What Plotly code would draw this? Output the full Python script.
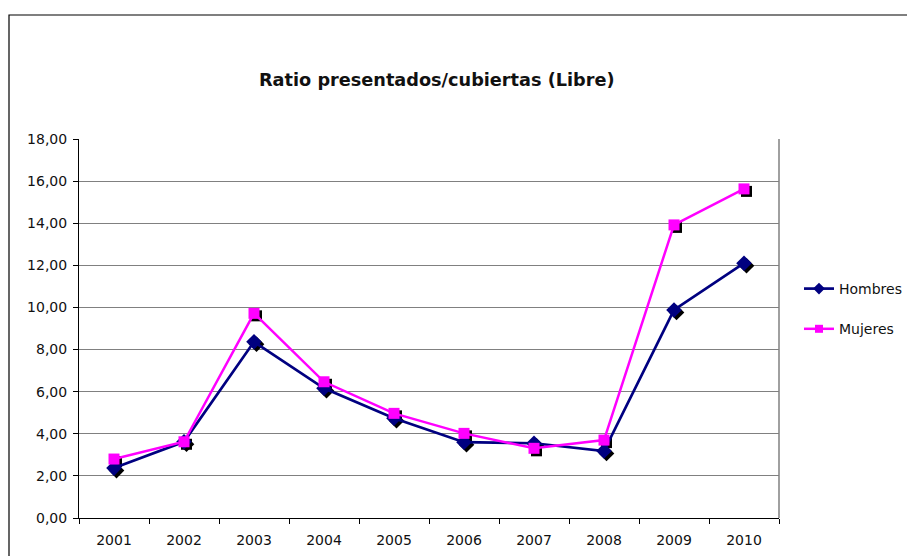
import plotly.graph_objects as go

years = ["2001", "2002", "2003", "2004", "2005", "2006", "2007", "2008", "2009", "2010"]
hombres = [2.37, 3.62, 8.37, 6.16, 4.74, 3.60, 3.55, 3.18, 9.88, 12.10]
mujeres = [2.80, 3.62, 9.72, 6.47, 4.97, 4.02, 3.31, 3.70, 13.92, 15.63]
y_ticks = [0, 2, 4, 6, 8, 10, 12, 14, 16, 18]

OFF = 8  # page body margin
W, H = 915 - OFF, 556 - OFF
L, T = 79 - OFF, 139 - OFF
R = W - (779 - OFF)
B = H - (518 - OFF)
pw = W - L - R
ph = H - T - B


def px(x):
    return (x - OFF - L) / pw


def py(y):
    return ((518 - OFF) - (y - OFF)) / ph


# shadow offset in pixels
dx, dy = 2.5, 2.5
xr = [-0.5, 9.5]
yr = [0, 18]
sx = dx * (xr[1] - xr[0]) / pw
sy = dy * (yr[1] - yr[0]) / ph

fig = go.Figure()
font_family = "DejaVu Sans, Verdana, sans-serif"
navy = "#000080"
magenta = "#FF00FF"

# invisible trace anchoring the base (visible) axes
fig.add_trace(go.Scatter(x=years, y=hombres, mode="lines", line=dict(width=0, color="rgba(0,0,0,0)"),
                         opacity=0, showlegend=False, hoverinfo="skip"))

# shadows (overlay x2/y2, shifted)
fig.add_trace(go.Scatter(x=years, y=hombres, mode="markers", xaxis="x2", yaxis="y2",
                         marker=dict(symbol="diamond", size=12, color="black"),
                         showlegend=False, hoverinfo="skip"))
fig.add_trace(go.Scatter(x=years, y=mujeres, mode="markers", xaxis="x2", yaxis="y2",
                         marker=dict(symbol="square", size=11, color="black"),
                         showlegend=False, hoverinfo="skip"))

# real series (overlay x3/y3, on top)
fig.add_trace(go.Scatter(x=years, y=hombres, mode="lines+markers", name="Hombres",
                         xaxis="x3", yaxis="y3", showlegend=False,
                         line=dict(color=navy, width=2.7),
                         marker=dict(symbol="diamond", size=12, color=navy)))
fig.add_trace(go.Scatter(x=years, y=mujeres, mode="lines+markers", name="Mujeres",
                         xaxis="x3", yaxis="y3", showlegend=False,
                         line=dict(color=magenta, width=2.5),
                         marker=dict(symbol="square", size=11, color=magenta)))

# legend entries (no data)
fig.add_trace(go.Scatter(x=[None], y=[None], mode="lines+markers", name="Hombres",
                         legendgroup="h", xaxis="x3", yaxis="y3",
                         line=dict(color=navy, width=2.7),
                         marker=dict(symbol="diamond", size=9, color=navy)))
fig.add_trace(go.Scatter(x=[None], y=[None], mode="lines+markers", name="Mujeres",
                         legendgroup="m", xaxis="x3", yaxis="y3",
                         line=dict(color=magenta, width=2.5),
                         marker=dict(symbol="square", size=8, color=magenta)))

fig.update_layout(
    width=W, height=H,
    margin=dict(l=L, r=R, t=T, b=B, pad=0, autoexpand=False),
    paper_bgcolor="white", plot_bgcolor="white",
    separators=",.",
    font=dict(family=font_family, size=14, color="black"),
    xaxis=dict(type="category", categoryorder="array", categoryarray=years, range=xr,
               showgrid=False, showline=True, automargin=False,
               linecolor="black", linewidth=1, ticks="outside", ticklen=5, tickcolor="black",
               tickson="boundaries", tickfont=dict(size=14, color="#111111"), zeroline=False,
               ticklabelstandoff=9),
    yaxis=dict(range=yr, tickvals=y_ticks, tickformat=".2f", showgrid=True, gridcolor="#808080",
               gridwidth=1, showline=True, linecolor="black", linewidth=1, ticks="outside",
               automargin=False,
               ticklen=5, tickcolor="black", zeroline=False, tickfont=dict(size=14, color="#111111"),
               ticklabelstandoff=3),
    xaxis2=dict(type="category", categoryorder="array", categoryarray=years,
                range=[xr[0] - sx, xr[1] - sx], overlaying="x", visible=False),
    yaxis2=dict(range=[yr[0] + sy, yr[1] + sy], overlaying="y", visible=False),
    xaxis3=dict(type="category", categoryorder="array", categoryarray=years, range=xr,
                overlaying="x", visible=False),
    yaxis3=dict(range=yr, overlaying="y", visible=False),
    legend=dict(x=px(799), y=py(273), xanchor="left", yanchor="top",
                font=dict(size=14, color="#111111"), tracegroupgap=19, itemsizing="trace",
                bgcolor="rgba(0,0,0,0)", borderwidth=0),
    showlegend=True,
    shapes=[
        dict(type="line", xref="paper", yref="paper", x0=1, x1=1, y0=0, y1=1,
             line=dict(color="#808080", width=1.5)),
        dict(type="rect", xref="paper", yref="paper", x0=px(9), x1=2,
             y0=-1, y1=py(15), line=dict(color="black", width=1.2), layer="below"),
    ],
    annotations=[
        dict(text="<b>Ratio presentados/cubiertas (Libre)</b>", xref="paper", yref="paper",
             x=px(437), y=py(80), xanchor="center", yanchor="middle",
             showarrow=False, font=dict(size=17.7, family=font_family, color="#111111")),
    ],
)

fig.write_html("out.html")
